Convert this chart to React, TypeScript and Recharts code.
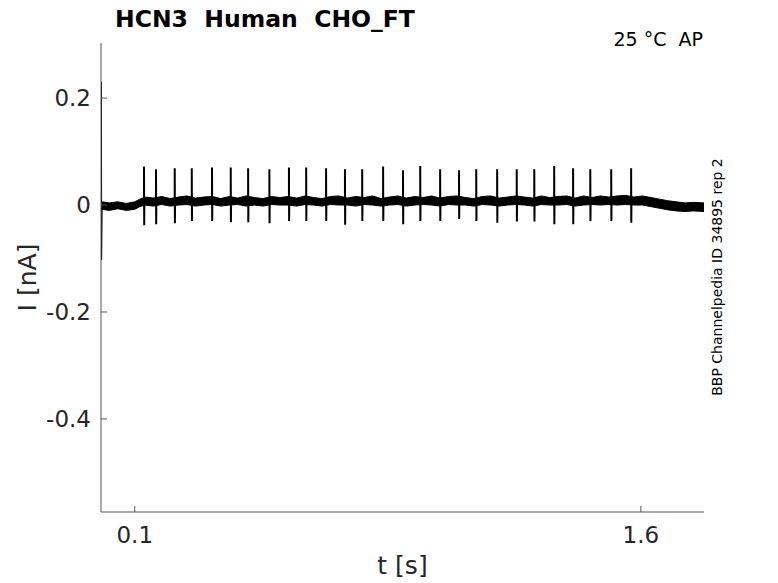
import React from 'react';
import { ComposedChart, Area, Line, XAxis, YAxis, Label } from 'recharts';

// noise band envelope of the baseline current [nA]
const bandT = [
  0.003, 0.025, 0.05, 0.075, 0.1, 0.115, 0.13, 0.155, 0.18, 0.205,
  0.23, 0.255, 0.28, 0.305, 0.33, 0.355, 0.38, 0.405, 0.43, 0.455,
  0.48, 0.505, 0.53, 0.555, 0.58, 0.605, 0.63, 0.655, 0.68, 0.705,
  0.73, 0.755, 0.78, 0.805, 0.83, 0.855, 0.88, 0.905, 0.93, 0.955,
  0.98, 1.005, 1.03, 1.055, 1.08, 1.105, 1.13, 1.155, 1.18, 1.205,
  1.23, 1.255, 1.28, 1.305, 1.33, 1.355, 1.38, 1.405, 1.43, 1.455,
  1.48, 1.505, 1.53, 1.555, 1.58, 1.605, 1.63, 1.655, 1.68, 1.705,
  1.73, 1.755, 1.787,
];
const bandHi = [
  0.006, 0.004, 0.006, 0.003, 0.006, 0.011, 0.015, 0.013, 0.016, 0.012,
  0.015, 0.017, 0.013, 0.015, 0.016, 0.012, 0.016, 0.013, 0.017, 0.014,
  0.012, 0.016, 0.014, 0.016, 0.013, 0.017, 0.014, 0.012, 0.016, 0.017,
  0.013, 0.016, 0.014, 0.017, 0.012, 0.015, 0.017, 0.013, 0.016, 0.014,
  0.017, 0.013, 0.016, 0.017, 0.014, 0.012, 0.016, 0.017, 0.013, 0.015,
  0.017, 0.015, 0.013, 0.017, 0.014, 0.016, 0.017, 0.013, 0.017, 0.014,
  0.017, 0.015, 0.017, 0.018, 0.015, 0.017, 0.014, 0.011, 0.008, 0.006,
  0.004, 0.005, 0.004,
];
const bandLo = [
  -0.008, -0.01, -0.007, -0.01, -0.008, -0.003, 0.0, -0.002, 0.001, -0.002,
  0.0, 0.001, -0.002, 0.0, 0.001, -0.002, 0.0, 0.001, -0.002, 0.0,
  -0.002, 0.001, 0.0, 0.0, -0.002, 0.001, 0.0, -0.002, 0.001, 0.0,
  0.0, -0.002, 0.001, 0.0, -0.002, 0.0, 0.001, -0.002, 0.0, 0.001,
  0.0, -0.002, 0.001, 0.0, 0.0, -0.002, 0.001, 0.0, -0.002, 0.0,
  0.001, 0.0, -0.002, 0.001, 0.0, 0.0, 0.001, -0.002, 0.0, 0.001,
  0.0, 0.001, 0.0, 0.001, 0.0, 0.0, -0.003, -0.006, -0.009, -0.011,
  -0.012, -0.011, -0.012,
];

// action-potential-clamp spikes: time [s], peak and trough [nA]
const spikeT = [
  0.1275, 0.163, 0.2185, 0.269, 0.329, 0.3845, 0.436, 0.499, 0.557, 0.608,
  0.667, 0.723, 0.774, 0.836, 0.895, 0.946, 1.005, 1.061, 1.112, 1.174,
  1.232, 1.284, 1.343, 1.399, 1.45, 1.512, 1.571,
];
const spikeTop = [
  0.072, 0.067, 0.069, 0.069, 0.07, 0.07, 0.069, 0.067, 0.07, 0.07,
  0.069, 0.067, 0.067, 0.072, 0.065, 0.073, 0.067, 0.065, 0.067, 0.067,
  0.067, 0.067, 0.073, 0.069, 0.067, 0.067, 0.069,
];
const spikeBottom = [
  -0.038, -0.036, -0.034, -0.03, -0.03, -0.032, -0.032, -0.034, -0.03, -0.03,
  -0.03, -0.037, -0.03, -0.03, -0.036, -0.03, -0.03, -0.026, -0.03, -0.033,
  -0.031, -0.031, -0.036, -0.036, -0.03, -0.03, -0.033,
];
const spikeBase = 0.007;

// capacitive transient at onset
const transientT = [0.0005, 0.001, 0.0015, 0.003];
const transientI = [0, 0.23, -0.103, -0.002];

const xTicks = [0.1, 1.6];
const yTicks = [0.2, 0, -0.2, -0.4];

const bandData = bandT.map((t, i) => ({ t, range: [bandLo[i], bandHi[i]] }));
const spikeData = spikeT.flatMap((t, i) => [
  { t, v: spikeBase },
  { t, v: spikeTop[i] },
  { t: t + 0.0005, v: spikeBottom[i] },
  { t: t + 0.001, v: spikeBase },
]);
const transientData = transientT.map((t, i) => ({ t, v: transientI[i] }));

const FONT = '"DejaVu Sans", sans-serif';
const TEXT = '#262626';
const AXIS = '#555555';

export default function App() {
  return (
    <div style={{ position: 'absolute', left: 0, top: 0, width: 778, height: 583, background: '#fff', fontFamily: FONT }}>
      <ComposedChart
        width={778}
        height={583}
        data={bandData}
        margin={{ top: 43, right: 74, bottom: 31, left: 41 }}
      >
        <XAxis
          dataKey="t"
          type="number"
          domain={[0, 1.787]}
          ticks={xTicks}
          allowDataOverflow
          stroke={AXIS}
          tickSize={-6}
          tickMargin={21}
          height={40}
          tick={{ fill: TEXT, fontSize: 23, fontFamily: FONT }}
        >
          <Label value="t [s]" position="insideBottom" offset={-22} style={{ fill: TEXT, fontSize: 25, fontFamily: FONT }} />
        </XAxis>
        <YAxis
          type="number"
          domain={[-0.574, 0.303]}
          ticks={yTicks}
          allowDataOverflow
          stroke={AXIS}
          tickSize={-6}
          tickMargin={16}
          width={60}
          tickFormatter={(v) => String(v)}
          tick={{ fill: TEXT, fontSize: 23, fontFamily: FONT }}
        >
          <Label value="I [nA]" angle={-90} position="insideLeft" offset={-14} style={{ fill: TEXT, fontSize: 25, fontFamily: FONT, textAnchor: 'middle' }} />
        </YAxis>
        <Area
          dataKey="range"
          type="linear"
          stroke="#000"
          strokeWidth={1}
          fill="#000"
          fillOpacity={1}
          dot={false}
          activeDot={false}
          isAnimationActive={false}
        />
        <Line
          data={spikeData}
          dataKey="v"
          type="linear"
          stroke="#000"
          strokeWidth={2}
          dot={false}
          activeDot={false}
          isAnimationActive={false}
        />
        <Line
          data={transientData}
          dataKey="v"
          type="linear"
          stroke="#000"
          strokeWidth={1.3}
          dot={false}
          activeDot={false}
          isAnimationActive={false}
        />
      </ComposedChart>
      <div style={{ position: 'absolute', left: 115, top: 5, fontSize: 23.5, fontWeight: 'bold', color: '#000', whiteSpace: 'pre' }}>
        {'HCN3  Human  CHO_FT'}
      </div>
      <div style={{ position: 'absolute', right: 75, top: 28, fontSize: 19, color: '#000', whiteSpace: 'pre' }}>
        {'25 °C  AP'}
      </div>
      <div
        style={{
          position: 'absolute',
          left: 717,
          top: 277,
          fontSize: 14,
          color: '#000',
          whiteSpace: 'pre',
          transform: 'translate(-50%, -50%) rotate(-90deg)',
        }}
      >
        BBP Channelpedia ID 34895 rep 2
      </div>
    </div>
  );
}
